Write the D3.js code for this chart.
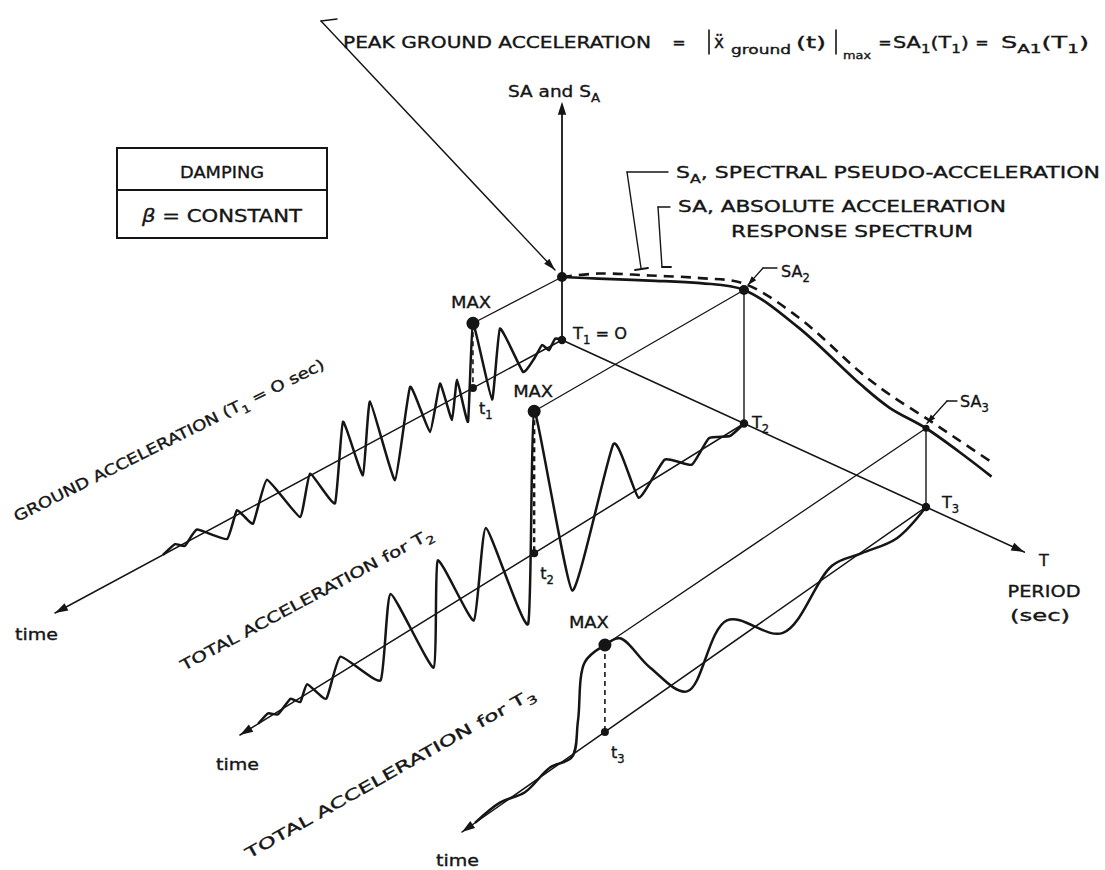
<!DOCTYPE html>
<html>
<head>
<meta charset="utf-8">
<script src="https://d3js.org/d3.v7.min.js"></script>
<style>
  body { margin: 0; background: #fff; }
  svg text { font-family: "DejaVu Sans", "Liberation Sans", sans-serif; fill: #151515;
             stroke: #151515; stroke-width: 0.35px; }
</style>
</head>
<body>
<svg id="chart" width="1105" height="870" viewBox="0 0 1105 870"></svg>
<script>
// ---- Response spectra (period in sec, ordinate in units of peak ground acceleration)
const periods  = [0, 0.10, 0.24, 0.38, 0.50, 0.65, 0.82, 0.90, 1.00, 1.09, 1.18];
const saAbs    = [1.00, 1.24, 1.58, 1.91, 2.12, 1.92, 1.47, 1.31, 1.25, 1.12, 0.96];
const saPseudo = [1.00, 1.32, 1.66, 1.99, 2.22, 2.08, 1.66, 1.52, 1.41, 1.30, 1.19];

// ---- Oscillator periods of the three histories
const oscPeriods = [0, 0.5, 1.0];
const oscNames   = ["1", "2", "3"];

// ---- Ground acceleration history (T1 = 0 sec); time in sec
const groundTime = [0, 0.41, 0.77, 1.18, 1.66, 2.31, 3.67, 4.14, 5.27, 5.56, 6.21, 6.51, 7.22, 7.81,
                    8.99, 9.88, 11.36, 11.78, 12.96, 13.43, 14.91, 15.50, 17.46, 18.28, 19.23, 19.82,
                    21.60, 22.31, 22.90, 23.61];
const groundAcc  = [0, 0.08, -0.05, 0.09, -0.06, -0.17, 0.70, -0.34, 1.00, -0.48, 0.26, -0.32, 0.34, -0.32,
                    0.53, -0.76, 0.63, -0.42, 0.54, -0.61, 0.03, -0.53, 0.28, -0.25, 0.07, -0.27,
                    0.10, -0.04, 0.06, 0];

// ---- Total acceleration history, oscillator T2
const t2Time = [0, 0.84, 2.09, 3.11, 4.72, 6.27, 7.77, 10.22, 12.49, 12.85, 15.36, 16.08, 18.23, 18.47,
                21.04, 21.63, 24.02, 24.86, 26.00, 26.41, 27.00, 27.73, 28.33, 28.92];
const t2Acc  = [0, -0.06, 0.11, -0.14, 0.20, -0.14, 0.92, -0.92, 2.12, -1.00, 0.81, -0.44, 0.76, -0.76,
                0.69, -0.46, 0.23, -0.24, 0.13, -0.06, 0.07, -0.04, 0.06, 0];

// ---- Total acceleration history, oscillator T3
const t3Time = [0, 1.88, 4.14, 6.08, 9.25, 12.87, 15.45, 17.85, 19.79, 20.76, 22.05, 22.50, 22.89,
                24.31, 25.93, 27.55, 29.16];
const t3Acc  = [0, -0.17, -0.02, 0.11, -0.39, 0.39, -0.25, 0.48, 1.20, 1.25, 1.20, 0.43, -0.03,
                0.04, -0.06, 0.04, 0];

const svg = d3.select("#chart");
const ink = "#151515";

// oblique period axis in the base plane
const periodX = d3.scaleLinear().domain([0, 1]).range([562, 926]);
const periodY = d3.scaleLinear().domain([0, 1]).range([340, 507]);
// vertical ordinate: pixels per unit of acceleration
const ordinate = d3.scaleLinear().domain([0, 1]).range([0, 63]);
// time runs from each oscillator's foot toward the viewer
const timeFrac = d3.scaleLinear().domain([0, 30]).range([0, 1]);
const depthGain = 0.15;   // slight foreshortening toward the back

const basePt = T => [periodX(T), periodY(T)];
const specPt = (T, v) => [periodX(T), periodY(T) - ordinate(v)];

const histories = [
  { T: oscPeriods[0], time: groundTime, acc: groundAcc, tip: [55, 613],  curve: d3.curveCardinal.tension(0.62) },
  { T: oscPeriods[1], time: t2Time,     acc: t2Acc,     tip: [240, 735], curve: d3.curveCardinal.tension(0.55) },
  { T: oscPeriods[2], time: t3Time,     acc: t3Acc,     tip: [462, 832], curve: d3.curveCatmullRom.alpha(0.5) }
];

function histPt(h, t, a) {
  const [ox, oy] = basePt(h.T);
  const f = timeFrac(t);
  return [ox + f * (h.tip[0] - ox),
          oy + f * (h.tip[1] - oy) - ordinate(a) * (1 + depthGain * f)];
}

function seg(g, a, b, w, dash) {
  const l = g.append("line")
    .attr("x1", a[0]).attr("y1", a[1]).attr("x2", b[0]).attr("y2", b[1])
    .attr("stroke", ink).attr("stroke-width", w).attr("stroke-linecap", "round");
  if (dash) l.attr("stroke-dasharray", dash).attr("stroke-linecap", "butt");
  return l;
}

function arrowHead(g, from, tip, len = 13, half = 4.2) {
  const dx = tip[0] - from[0], dy = tip[1] - from[1], L = Math.hypot(dx, dy);
  const ux = dx / L, uy = dy / L;
  const bx = tip[0] - ux * len, by = tip[1] - uy * len;
  g.append("path")
    .attr("d", `M${tip[0]},${tip[1]}L${bx - uy * half},${by + ux * half}L${bx + uy * half},${by - ux * half}Z`)
    .attr("fill", ink);
}

function dot(g, p, r) {
  g.append("circle").attr("cx", p[0]).attr("cy", p[1]).attr("r", r).attr("fill", ink);
}

// text with optional subscript pieces: parts = [[str, isSub, fontStyle], ...]
function richText(g, x, y, parts, opts = {}) {
  const size = opts.size || 16;
  const t = g.append("text").attr("x", x).attr("y", y).attr("font-size", size);
  if (opts.anchor) t.attr("text-anchor", opts.anchor);
  if (opts.len) t.attr("textLength", opts.len).attr("lengthAdjust", "spacingAndGlyphs");
  let shifted = 0;
  parts.forEach(([s, sub, style]) => {
    const want = sub ? 5 : 0;
    const ts = t.append("tspan").attr("dy", want - shifted).text(s);
    if (sub) ts.attr("font-size", size * 0.72);
    if (style) ts.attr("font-style", style);
    shifted = want;
  });
  return t;
}

const axesLayer = svg.append("g");
const curveLayer = svg.append("g");
const markLayer = svg.append("g");
const labelLayer = svg.append("g");

// ---- axes
const origin = basePt(0);
const saTop = specPt(0, 3.78);
seg(axesLayer, origin, [saTop[0], saTop[1] + 8], 1.8);
arrowHead(axesLayer, origin, saTop);

const tEnd = basePt(1.27);
seg(axesLayer, origin, tEnd, 1.6);
arrowHead(axesLayer, origin, tEnd);

histories.forEach(h => {
  const foot = basePt(h.T);
  seg(axesLayer, foot, h.tip, 1.5);
  arrowHead(axesLayer, foot, h.tip);
});

// ---- response histories
histories.forEach(h => {
  const pts = h.time.map((t, i) => histPt(h, t, h.acc[i]));
  curveLayer.append("path").attr("d", d3.line().curve(h.curve)(pts))
    .attr("fill", "none").attr("stroke", ink).attr("stroke-width", 2.5)
    .attr("stroke-linejoin", "round");
});

// ---- spectra
const specLine = d3.line().curve(d3.curveCatmullRom.alpha(0.5));
curveLayer.append("path").attr("d", specLine(periods.map((T, i) => specPt(T, saPseudo[i]))))
  .attr("fill", "none").attr("stroke", ink).attr("stroke-width", 2.6)
  .attr("stroke-dasharray", "10,7");
curveLayer.append("path").attr("d", specLine(periods.map((T, i) => specPt(T, saAbs[i]))))
  .attr("fill", "none").attr("stroke", ink).attr("stroke-width", 2.7);

// ---- maxima projected onto the spectrum
histories.forEach((h, k) => {
  const i = d3.maxIndex(h.acc);
  const peak = histPt(h, h.time[i], h.acc[i]);
  const foot = histPt(h, h.time[i], 0);
  const sa = specPt(h.T, h.acc[i]);
  seg(markLayer, peak, sa, 1.3);
  seg(markLayer, peak, foot, k === 1 ? 2.4 : 1.6, "5,4");
  if (k > 0) seg(markLayer, basePt(h.T), sa, 1.4);
  dot(markLayer, peak, 6.5);
  dot(markLayer, foot, 4);
  dot(markLayer, sa, k === 2 ? 3.5 : 5);
  dot(markLayer, basePt(h.T), 4.2);
  h.peak = peak; h.foot = foot; h.sa = sa;
});

// ---- leaders
const pgaPt = histories[0].sa;
seg(markLayer, [321, 21], [337, 19], 1.4);
const pgaTip = [pgaPt[0] - 7, pgaPt[1] - 7];
seg(markLayer, [321, 21], pgaTip, 1.4);
arrowHead(markLayer, [321, 21], pgaTip, 12, 3.6);

// S_A leader to the dashed curve
seg(markLayer, [627, 172], [668, 172], 1.4);
seg(markLayer, [627, 172], [641, 268], 1.4);
seg(markLayer, [635, 270], [648, 268], 1.8);
// SA leader to the solid curve
seg(markLayer, [658, 207], [670, 207], 1.4);
seg(markLayer, [658, 207], [662, 267], 1.4);
seg(markLayer, [662, 267], [671, 267], 1.8);

// SA2 and SA3 pointers
const sa2 = histories[1].sa, sa3 = histories[2].sa;
seg(markLayer, [763, 268], [777, 268], 1.3);
seg(markLayer, [763, 268], [sa2[0] + 4, sa2[1] - 5], 1.3);
arrowHead(markLayer, [763, 268], [sa2[0] + 4, sa2[1] - 5], 9, 3);
seg(markLayer, [947, 401], [957, 401], 1.3);
seg(markLayer, [947, 401], [sa3[0] + 1, sa3[1] - 5], 1.3);
arrowHead(markLayer, [947, 401], [sa3[0] + 1, sa3[1] - 5], 9, 3);

// ---- damping box
labelLayer.append("rect").attr("x", 117).attr("y", 148).attr("width", 210).attr("height", 90)
  .attr("fill", "none").attr("stroke", ink).attr("stroke-width", 2);
seg(labelLayer, [117, 190], [327, 190], 2);
richText(labelLayer, 222, 178, [["DAMPING"]], { anchor: "middle", size: 16, len: 84 });
richText(labelLayer, 222, 222, [["β", false, "italic"], [" = CONSTANT"]], { anchor: "middle", size: 17, len: 160 });

// ---- headline equation
const headline = labelLayer.append("g");
richText(headline, 343, 48, [["PEAK GROUND ACCELERATION"]], { len: 308 });
richText(headline, 679, 48, [["="]], { anchor: "middle" });
seg(headline, [709, 30], [709, 54], 1.6);
richText(headline, 714, 48, [["ẍ"]], { size: 17 });
richText(headline, 731, 54, [["ground"]], { size: 12, len: 60 });
richText(headline, 796, 48, [["(t)"]], { len: 30 });
seg(headline, [836, 30], [836, 54], 1.6);
richText(headline, 843, 59, [["max"]], { size: 11, len: 28 });
richText(headline, 885, 48, [["="]], { anchor: "middle" });
richText(headline, 893, 48, [["SA", false], ["1", true], ["(T", false], ["1", true], [")", false]], { len: 76 });
richText(headline, 982, 48, [["="]], { anchor: "middle" });
richText(headline, 1001, 48, [["S", false], ["A1", true], ["(T", false], ["1", true], [")", false]], { len: 88 });

// ---- axis labels
richText(labelLayer, 508, 97, [["SA and S"], ["A", true]], { len: 92 });
richText(labelLayer, 676, 178, [["S"], ["A", true], [", SPECTRAL PSEUDO-ACCELERATION", false]], { len: 424 });
richText(labelLayer, 678, 212, [["SA, ABSOLUTE ACCELERATION"]], { len: 328 });
richText(labelLayer, 731, 237, [["RESPONSE SPECTRUM"]], { len: 242 });

richText(labelLayer, 1044, 566, [["T"]], { anchor: "middle" });
richText(labelLayer, 1044, 597, [["PERIOD"]], { anchor: "middle", len: 73 });
richText(labelLayer, 1040, 621, [["(sec)"]], { anchor: "middle", len: 60 });

richText(labelLayer, 573, 339, [["T"], ["1", true], [" = O", false]], { len: 54 });
richText(labelLayer, 752, 428, [["T"], ["2", true]]);
richText(labelLayer, 942, 508, [["T"], ["3", true]]);
richText(labelLayer, 781, 277, [["SA"], ["2", true]]);
richText(labelLayer, 960, 407, [["SA"], ["3", true]]);

// MAX labels above each peak, time stamps beside each foot
histories.forEach((h, k) => {
  const offs = [[-2, -15], [-1, -14], [-16, -17]][k];
  richText(labelLayer, h.peak[0] + offs[0], h.peak[1] + offs[1], [["MAX"]], { anchor: "middle", size: 16, len: 40 });
  richText(labelLayer, h.foot[0] + 6, h.foot[1] + 26, [["t"], [oscNames[k], true]], { size: 16 });
});

richText(labelLayer, 15, 640, [["time"]], { size: 16, len: 43 });
richText(labelLayer, 216, 770, [["time"]], { size: 16, len: 43 });
richText(labelLayer, 436, 866, [["time"]], { size: 16, len: 43 });

// ---- labels running along the time axes
function slanted(x, y, angle, parts, len) {
  const g = labelLayer.append("g").attr("transform", `translate(${x},${y}) rotate(${angle})`);
  richText(g, 0, 0, parts, { size: 15, len });
}
slanted(17, 522, -26.5, [["GROUND ACCELERATION (T"], ["1", true], [" = O sec)", false]], 345);
slanted(184, 671, -28.2, [["TOTAL ACCELERATION for T"], ["2", true]], 284);
slanted(249, 859, -29.5, [["TOTAL ACCELERATION for T"], ["3", true]], 330);
</script>
</body>
</html>
